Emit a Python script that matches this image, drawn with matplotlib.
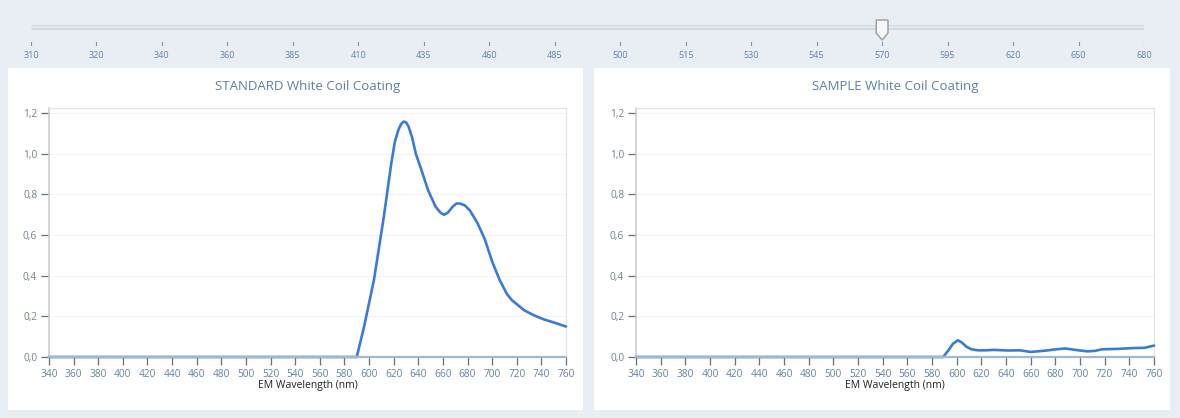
import matplotlib.pyplot as plt
import numpy as np
from matplotlib.patches import Rectangle, Polygon
from matplotlib.ticker import FuncFormatter

plt.rcParams['font.family'] = ['Open Sans', 'DejaVu Sans']

# slider labels (evenly spaced on the track) and the selected value
slider_labels = [310, 320, 340, 360, 385, 410, 435, 460, 485, 500,
                 515, 530, 545, 570, 595, 620, 650, 680]
slider_value = 570

# STANDARD curve, zero below 590 nm
std_wl = [340, 590, 596, 604, 612, 618, 621, 624, 626, 628, 630, 632, 635,
          638, 642, 648, 654, 658, 661, 664, 668, 671, 674, 678, 682, 688,
          694, 700, 706, 712, 716, 720, 726, 734, 742, 750, 760]
std_val = [0.0, 0.0, 0.15, 0.38, 0.69, 0.95, 1.06, 1.12, 1.145, 1.158,
           1.155, 1.135, 1.08, 1.00, 0.93, 0.82, 0.74, 0.71, 0.70, 0.71,
           0.74, 0.755, 0.755, 0.745, 0.72, 0.66, 0.58, 0.47, 0.38, 0.31,
           0.28, 0.26, 0.23, 0.205, 0.185, 0.17, 0.15]

# SAMPLE curve
smp_wl = [340, 589, 593, 597, 601, 604, 608, 612, 617, 624, 630, 642, 651,
          660, 666, 673, 681, 688, 695, 700, 706, 712, 718, 731, 743, 752,
          760]
smp_val = [0.0, 0.0, 0.03, 0.065, 0.082, 0.072, 0.05, 0.038, 0.033, 0.033,
           0.035, 0.032, 0.033, 0.025, 0.028, 0.032, 0.038, 0.042, 0.036,
           0.032, 0.028, 0.03, 0.038, 0.04, 0.044, 0.045, 0.056]

titles = ['STANDARD White Coil Coating', 'SAMPLE White Coil Coating']

bg = '#e9eef5'
tick_col = '#5f83a8'
line_col = '#3a7bd5'

W, H = 1180, 418
fig = plt.figure(figsize=(W / 100, H / 100), dpi=100, facecolor=bg)


def fx(px):
    return px / W


def fy(py):
    return 1 - py / H


# white panels
for x0, x1 in [(8, 583), (594, 1170)]:
    fig.patches.append(Rectangle((fx(x0), fy(410)), fx(x1 - x0), (410 - 68) / H,
                                 transform=fig.transFigure, facecolor='white',
                                 edgecolor='none', zorder=-1))

# slider
sl = fig.add_axes([fx(31), fy(62), fx(1144 - 31), (62 - 12) / H])
sl.set_xlim(0, len(slider_labels) - 1)
sl.set_ylim(0, 1)
sl.axis('off')
sl.plot([0, len(slider_labels) - 1], [0.7, 0.7], color='#d3d8de', lw=3.5,
        solid_capstyle='butt')
sl.plot([0, len(slider_labels) - 1], [0.7, 0.7], color='#e4e8ec', lw=1.5,
        solid_capstyle='butt')
for i, lab in enumerate(slider_labels):
    sl.plot([i, i], [0.35, 0.40], color='#7f93a6', lw=0.8)
    sl.text(i, 0.14, str(lab), ha='center', va='center', fontsize=6.5,
            color=tick_col)
k = slider_labels.index(slider_value)
thumb = Polygon([(k - 0.09, 0.84), (k + 0.09, 0.84), (k + 0.09, 0.58),
                 (k, 0.44), (k - 0.09, 0.58)], closed=True,
                facecolor='#f7f7f7', edgecolor='#9a9a9a', lw=1, zorder=5)
sl.add_patch(thumb)

fmt = FuncFormatter(lambda v, p: f'{v:.1f}'.replace('.', ','))

for (left, right), title, wl, val in zip([(49, 566), (636, 1154)], titles,
                                         [std_wl, smp_wl], [std_val, smp_val]):
    ax = fig.add_axes([fx(left), fy(357), fx(right - left), (357 - 108) / H])
    ax.set_facecolor('white')
    ax.plot(wl, val, color=line_col, lw=1.9, solid_joinstyle='round',
            solid_capstyle='round', zorder=3, clip_on=False)
    ax.set_xlim(340, 760)
    ax.set_ylim(0, 1.225)
    ax.set_xticks(np.arange(340, 761, 20))
    ax.set_yticks(np.arange(0, 1.21, 0.2))
    ax.yaxis.set_major_formatter(fmt)
    ax.grid(axis='y', color='#f2f4f6', lw=0.8)
    ax.set_axisbelow(True)
    for s in ['top', 'right']:
        ax.spines[s].set_color('#dfe3e7')
        ax.spines[s].set_linewidth(0.8)
    ax.spines['left'].set_color('#c5cad0')
    ax.spines['left'].set_linewidth(1.1)
    ax.spines['bottom'].set_color('#a3b8cc')
    ax.spines['bottom'].set_linewidth(1.6)
    ax.spines['bottom'].set_zorder(4)
    ax.tick_params(colors='#666f78', labelcolor=tick_col, labelsize=7.3,
                   length=6, width=0.9, pad=2.5)
    ax.tick_params(axis='y', labelcolor='#6f8296')
    ax.set_xlabel('EM Wavelength (nm)', fontsize=7.5, color='#222222',
                  labelpad=0)
    ax.set_title(title, fontsize=9.5, color='#5b82a6', pad=13)

fig.savefig('out.png', dpi=100, facecolor=bg)
